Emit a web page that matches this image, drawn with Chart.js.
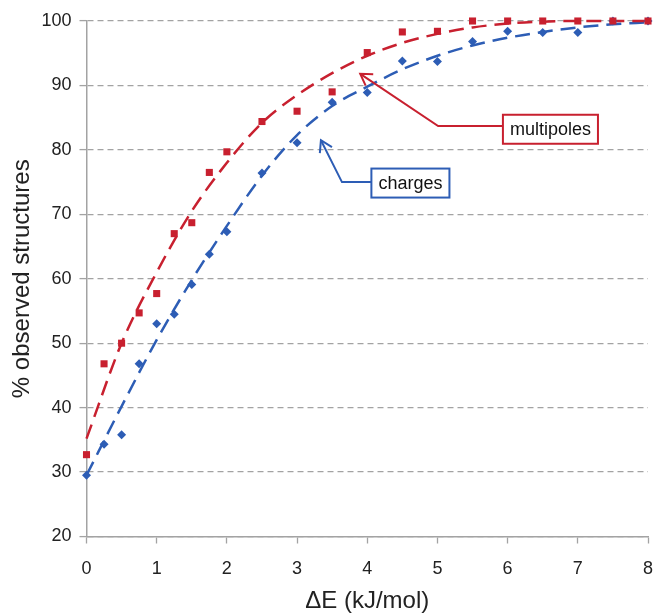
<!DOCTYPE html>
<html>
<head>
<meta charset="utf-8">
<script src="https://cdn.jsdelivr.net/npm/chart.js@4.4.0/dist/chart.umd.min.js"></script>
<style>
  html, body { margin: 0; padding: 0; background: #fff; }
  #wrap { width: 653px; height: 616px; }
</style>
</head>
<body>
<div id="wrap"><canvas id="plot" width="653" height="616"></canvas></div>
<script>
// observed points, energy window in kJ/mol
const energies = [0, 0.25, 0.5, 0.75, 1, 1.25, 1.5, 1.75, 2, 2.5, 3, 3.5, 4, 4.5, 5, 5.5, 6, 6.5, 7, 7.5, 8];
const multipoles = [32.7, 46.8, 50.0, 54.7, 57.7, 67.0, 68.7, 76.5, 79.7, 84.4, 86.0, 89.0, 95.1, 98.3, 98.4, 100, 100, 100, 100, 100, 100];
const charges = [29.5, 34.3, 35.8, 46.8, 53.0, 54.5, 59.1, 63.8, 67.3, 76.4, 81.1, 87.4, 88.9, 93.8, 93.7, 96.8, 98.4, 98.2, 98.2, 100, 100];

// dashed fitted curves
const fitX = [0, 0.5, 1, 1.5, 2, 2.5, 3, 3.5, 4, 4.5, 5, 5.5, 6, 6.5, 7, 7.5, 8];
const multipoleFit = [35.2, 50.0, 61.0, 70.5, 78.0, 84.2, 88.5, 91.9, 94.6, 96.6, 98.0, 99.0, 99.6, 99.9, 100, 100, 100];
const chargeFit = [29.5, 40.2, 50.5, 59.8, 68.2, 76.0, 82.3, 86.8, 89.8, 92.5, 94.6, 96.2, 97.4, 98.3, 99.0, 99.5, 99.8];

const xTicks = [0, 1, 2, 3, 4, 5, 6, 7, 8];
const yTicks = [20, 30, 40, 50, 60, 70, 80, 90, 100];

const RED = '#c8202f';
const BLUE = '#2d5db5';
const GREY = '#a3a3a3';
const FONT = "'Liberation Sans', Arial, sans-serif";

// callout boxes with arrows (data coordinates)
const callouts = [
  { text: 'multipoles', color: RED, tip: [3.9, 91.8], elbow: [5.01, 83.7], box: [6.61, 83.2] },
  { text: 'charges', color: BLUE, tip: [3.34, 81.5], elbow: [3.64, 75.0], box: [4.615, 74.85] }
];

const pts = (xs, ys) => xs.map((x, i) => ({ x: x, y: ys[i] }));

const calloutPlugin = {
  id: 'callouts',
  afterDatasetsDraw(chart) {
    const ctx = chart.ctx;
    const xs = chart.scales.x, ys = chart.scales.y;
    ctx.save();
    ctx.font = '18px ' + FONT;
    callouts.forEach(c => {
      const tx = xs.getPixelForValue(c.tip[0]), ty = ys.getPixelForValue(c.tip[1]);
      const ex = xs.getPixelForValue(c.elbow[0]), ey = ys.getPixelForValue(c.elbow[1]);
      const bx = xs.getPixelForValue(c.box[0]), by = ys.getPixelForValue(c.box[1]);
      const w = ctx.measureText(c.text).width + 14, h = 29;

      ctx.strokeStyle = c.color;
      ctx.lineWidth = 2;
      ctx.beginPath();
      ctx.moveTo(bx - w / 2, ey);
      ctx.lineTo(ex, ey);
      ctx.lineTo(tx, ty);
      ctx.stroke();

      // open arrow head
      const ang = Math.atan2(ey - ty, ex - tx);
      const len = 13, spread = 0.55;
      ctx.beginPath();
      ctx.moveTo(tx + len * Math.cos(ang - spread), ty + len * Math.sin(ang - spread));
      ctx.lineTo(tx, ty);
      ctx.lineTo(tx + len * Math.cos(ang + spread), ty + len * Math.sin(ang + spread));
      ctx.stroke();

      ctx.fillStyle = '#fff';
      ctx.fillRect(bx - w / 2, by - h / 2, w, h);
      ctx.strokeRect(bx - w / 2, by - h / 2, w, h);
      ctx.fillStyle = '#111';
      ctx.textAlign = 'center';
      ctx.textBaseline = 'middle';
      ctx.fillText(c.text, bx, by + 1);
    });
    ctx.restore();
  }
};

new Chart(document.getElementById('plot'), {
  type: 'scatter',
  data: {
    datasets: [
      {
        label: 'multipoles',
        data: pts(energies, multipoles),
        pointStyle: 'rect',
        pointRadius: 5,
        backgroundColor: RED,
        borderColor: RED,
        borderWidth: 0,
        order: 1
      },
      {
        label: 'charges',
        data: pts(energies, charges),
        pointStyle: 'rectRot',
        pointRadius: 4.5,
        backgroundColor: BLUE,
        borderColor: BLUE,
        borderWidth: 0,
        order: 2
      },
      {
        label: 'multipoles fit',
        data: pts(fitX, multipoleFit),
        showLine: true,
        pointRadius: 0,
        borderColor: RED,
        borderWidth: 2.5,
        borderDash: [15, 8],
        cubicInterpolationMode: 'monotone',
        order: 3
      },
      {
        label: 'charges fit',
        data: pts(fitX, chargeFit),
        showLine: true,
        pointRadius: 0,
        borderColor: BLUE,
        borderWidth: 2.5,
        borderDash: [15, 8],
        cubicInterpolationMode: 'monotone',
        order: 4
      }
    ]
  },
  options: {
    responsive: false,
    animation: false,
    devicePixelRatio: 1,
    clip: false,
    layout: { padding: { left: 0, right: 5, top: 21, bottom: 0 } },
    plugins: { legend: { display: false }, tooltip: { enabled: false } },
    scales: {
      x: {
        type: 'linear',
        min: 0, max: 8,
        afterBuildTicks: s => { s.ticks = xTicks.map(v => ({ value: v })); },
        afterFit: s => { s.height = 79.5; s.paddingLeft = 0; s.paddingRight = 0; },
        grid: { drawOnChartArea: false, color: GREY, tickLength: 7, tickColor: GREY, tickWidth: 1.3 },
        border: { color: GREY, width: 1.5 },
        ticks: { color: '#222', font: { family: FONT, size: 18 }, padding: 14.5, maxRotation: 0 },
        title: { display: true, text: 'ΔE (kJ/mol)', color: '#222', font: { family: FONT, size: 24, lineHeight: 1 }, padding: { top: 0, bottom: 3 } }
      },
      y: {
        min: 20, max: 100,
        afterBuildTicks: s => { s.ticks = yTicks.map(v => ({ value: v })); },
        afterFit: s => { s.width = 86.5; },
        grid: { color: GREY, lineWidth: 1.2, tickLength: 7, tickColor: GREY, tickBorderDash: [], tickWidth: 1.3 },
        border: { color: GREY, width: 1.5, dash: [6, 4] },
        ticks: { color: '#222', font: { family: FONT, size: 18 }, padding: 8 },
        title: { display: true, text: '% observed structures', color: '#222', font: { family: FONT, size: 24, lineHeight: 1 }, padding: { top: 10, bottom: 0 } }
      }
    }
  },
  plugins: [calloutPlugin]
});
</script>
</body>
</html>
